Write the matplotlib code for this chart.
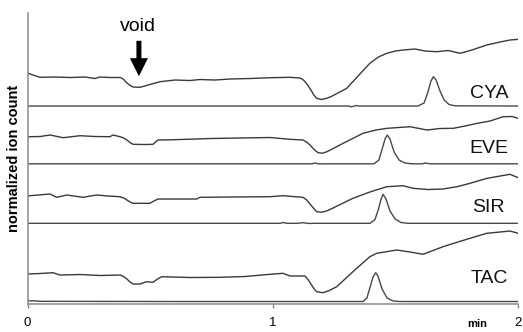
import matplotlib
matplotlib.use("Agg")
import matplotlib.pyplot as plt
from matplotlib.patches import FancyArrowPatch

plt.rcParams['font.family'] = ['Liberation Sans', 'DejaVu Sans']

# retention time (min) and normalized signal
cya_t = [0.000, 0.022, 0.051, 0.112, 0.173, 0.234, 0.275, 0.295, 0.336, 0.377, 0.390, 0.401,
         0.415, 0.430, 0.458, 0.475, 0.491, 0.540, 0.601, 0.662, 0.703, 0.764, 0.825, 0.907,
         0.988, 1.070, 1.110, 1.122, 1.131, 1.143, 1.155, 1.167, 1.178, 1.198, 1.219, 1.238,
         1.257, 1.301, 1.347, 1.395, 1.430, 1.464, 1.500, 1.530, 1.579, 1.620, 1.667, 1.714,
         1.763, 1.811, 1.871, 1.926, 1.966, 2.000]
cya_v = [23.10, 22.90, 22.67, 22.70, 22.65, 22.70, 22.55, 22.70, 22.65, 22.65, 22.50, 22.20,
         21.90, 21.70, 21.67, 21.78, 21.90, 22.23, 22.40, 22.35, 22.45, 22.40, 22.50, 22.55,
         22.63, 22.67, 22.60, 22.45, 22.23, 21.85, 21.40, 20.90, 20.57, 20.45, 20.57, 20.75,
         21.00, 21.57, 22.80, 24.07, 24.70, 25.07, 25.30, 25.40, 25.50, 25.30, 25.23, 25.35,
         25.07, 25.40, 25.90, 26.20, 26.40, 26.47]
cya_bt = [0.0, 0.6, 1.31, 1.32, 1.34, 1.35, 1.591, 1.616, 1.632, 1.644, 1.654, 1.665, 1.681,
          1.698, 1.718, 1.742, 2.0]
cya_bv = [19.8, 19.8, 19.8, 19.72, 19.85, 19.8, 19.8, 20.1, 21.2, 22.3, 22.73, 22.4, 21.3,
          20.4, 19.95, 19.82, 19.8]

eve_t = [0.000, 0.010, 0.051, 0.092, 0.145, 0.214, 0.275, 0.336, 0.348, 0.377, 0.392, 0.405,
         0.418, 0.430, 0.479, 0.511, 0.522, 0.532, 0.581, 0.650, 0.744, 0.866, 0.988, 1.070,
         1.123, 1.140, 1.155, 1.170, 1.184, 1.202, 1.220, 1.250, 1.286, 1.367, 1.420, 1.465,
         1.559, 1.628, 1.681, 1.735, 1.783, 1.833, 1.885, 1.938, 1.974, 2.000]
eve_v = [16.70, 16.73, 16.75, 16.90, 16.63, 16.83, 16.75, 16.73, 16.90, 16.73, 16.60, 16.40,
         16.15, 15.97, 15.95, 15.97, 16.20, 16.40, 16.42, 16.47, 16.55, 16.60, 16.65, 16.47,
         16.40, 16.15, 15.80, 15.40, 15.13, 15.08, 15.23, 15.60, 16.07, 17.07, 17.40, 17.57,
         17.73, 17.40, 17.55, 17.57, 17.80, 18.07, 18.30, 18.73, 18.75, 18.57]
eve_bt = [0.0, 1.16, 1.17, 1.19, 1.20, 1.412, 1.432, 1.444, 1.457, 1.466, 1.477, 1.494,
          1.514, 1.538, 1.567, 1.61, 1.62, 1.64, 2.0]
eve_bv = [14.02, 14.02, 14.1, 14.0, 14.02, 14.02, 14.4, 15.4, 16.5, 16.9, 16.5, 15.2,
          14.4, 14.1, 14.02, 14.02, 14.1, 14.02, 14.02]

sir_t = [0.000, 0.010, 0.092, 0.119, 0.160, 0.226, 0.282, 0.328, 0.377, 0.392, 0.405, 0.418,
         0.430, 0.499, 0.515, 0.532, 0.621, 0.689, 0.703, 0.825, 0.988, 1.041, 1.123, 1.138,
         1.151, 1.165, 1.178, 1.198, 1.219, 1.245, 1.274, 1.326, 1.395, 1.464, 1.530, 1.571,
         1.632, 1.693, 1.754, 1.803, 1.873, 1.926, 1.966, 2.000]
sir_v = [10.80, 10.83, 11.00, 10.67, 10.90, 10.67, 10.90, 10.80, 10.73, 10.60, 10.40, 10.20,
         10.07, 10.07, 10.30, 10.50, 10.50, 10.50, 10.67, 10.70, 10.73, 10.83, 10.67, 10.40,
         10.00, 9.60, 9.23, 9.18, 9.30, 9.60, 9.95, 10.57, 11.20, 11.73, 11.83, 11.57,
         11.45, 11.50, 11.75, 12.07, 12.57, 12.80, 12.97, 12.63]
sir_bt = [0.0, 1.03, 1.04, 1.06, 1.10, 1.12, 1.15, 1.16, 1.396, 1.416, 1.429, 1.441, 1.449,
          1.461, 1.477, 1.498, 1.522, 1.550, 2.0]
sir_bv = [8.07, 8.07, 8.15, 8.07, 8.07, 8.13, 8.05, 8.07, 8.07, 8.45, 9.4, 10.5, 10.97,
          10.5, 9.3, 8.5, 8.15, 8.07, 8.07]

tac_t = [0.000, 0.051, 0.104, 0.132, 0.214, 0.295, 0.377, 0.392, 0.405, 0.418, 0.430, 0.458,
         0.486, 0.511, 0.530, 0.547, 0.662, 0.784, 0.886, 0.988, 1.041, 1.070, 1.131, 1.143,
         1.155, 1.167, 1.178, 1.204, 1.230, 1.260, 1.326, 1.395, 1.423, 1.504, 1.559, 1.612,
         1.693, 1.754, 1.803, 1.871, 1.926, 1.966, 2.000]
tac_v = [3.00, 3.05, 3.13, 2.90, 2.95, 2.85, 2.90, 2.75, 2.50, 2.20, 2.00, 2.00,
         2.23, 2.17, 2.50, 2.73, 2.65, 2.67, 2.75, 2.97, 3.07, 2.80, 2.80, 2.45,
         2.00, 1.55, 1.23, 1.13, 1.35, 1.73, 3.23, 4.73, 5.07, 5.40, 5.20, 4.97,
         5.73, 6.20, 6.57, 7.07, 7.20, 7.30, 7.07]
tac_bt = [0.0, 0.03, 0.05, 0.60, 1.367, 1.383, 1.395, 1.408, 1.419, 1.428, 1.445, 1.465,
          1.490, 1.518, 2.0]
tac_bv = [0.32, 0.32, 0.27, 0.25, 0.25, 0.6, 1.6, 2.7, 3.13, 2.8, 1.5, 0.6,
          0.3, 0.25, 0.25]

names = ["CYA", "EVE", "SIR", "TAC"]
label_v = [21.1, 15.6, 9.7, 2.6]
traces = [(cya_t, cya_v, cya_bt, cya_bv), (eve_t, eve_v, eve_bt, eve_bv),
          (sir_t, sir_v, sir_bt, sir_bv), (tac_t, tac_v, tac_bt, tac_bv)]

void_t = 0.454

fig = plt.figure(figsize=(5.23, 3.32), dpi=100)
ax = fig.add_axes([0.0526, 0.0843, 0.9384, 0.8765])

for (t, v, bt, bv), name, lv in zip(traces, names, label_v):
    ax.plot(t, v, color="#3a3a3a", lw=1.0)
    ax.plot(bt, bv, color="#484848", lw=1.0)
    ax.text(1.88, lv, name, fontsize=14, ha="center", va="center", color="#111111")

# void marker
arrow = FancyArrowPatch((void_t, 26.6), (void_t, 22.5),
                        arrowstyle="simple,head_length=1.3,head_width=1.3,tail_width=0.36",
                        mutation_scale=10, color="black", lw=0)
ax.add_patch(arrow)
ax.text(void_t - 0.005, 27.3, "void", fontsize=14, ha="center", va="baseline")

ax.set_xlim(0, 2)
ax.set_ylim(0, 29.1)
ax.set_xticks([0, 1, 2])
ax.set_xticklabels(["0", "1", "2"])
ax.set_yticks([])
ax.tick_params(axis="x", direction="out", length=3, width=1, color="#888888",
               labelsize=9.5, pad=6)
for s in ["top", "right"]:
    ax.spines[s].set_visible(False)
for s in ["left", "bottom"]:
    ax.spines[s].set_color("#8a8a8a")
    ax.spines[s].set_linewidth(1.1)

ax.text(1.832, -0.05, "min", transform=ax.get_xaxis_transform(), fontsize=8,
        fontweight="bold", ha="center", va="top")
fig.text(14 / 523, 1 - 158 / 332, "normalized ion count", rotation=90, fontsize=10.5,
         fontweight="bold", ha="center", va="center")

fig.savefig("out.png", dpi=100)
